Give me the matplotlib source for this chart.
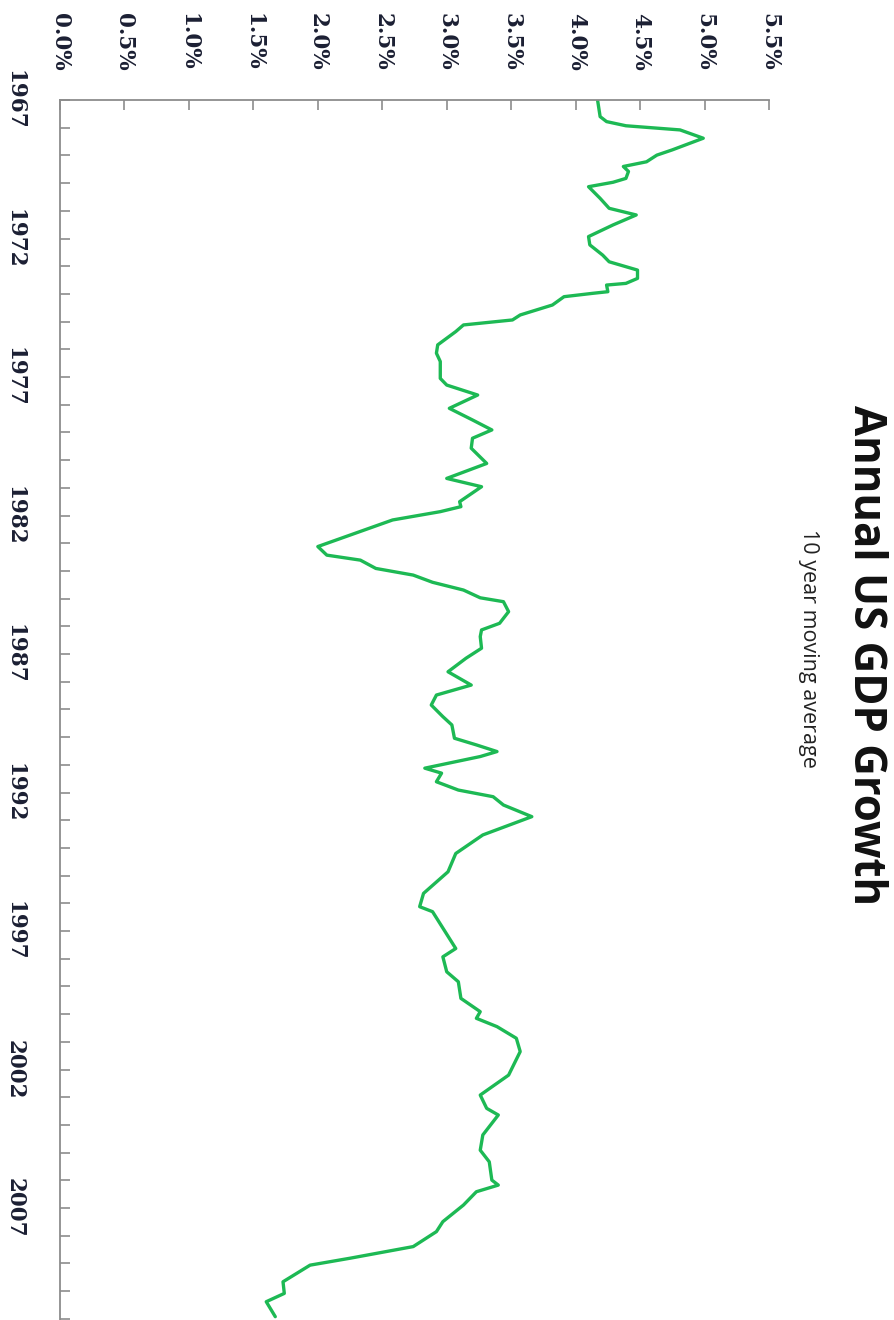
import matplotlib
matplotlib.use("Agg")
import matplotlib.pyplot as plt
from matplotlib.font_manager import FontProperties
from matplotlib.ticker import FixedLocator, FuncFormatter

# 10-year moving average of annual US GDP growth (%), by date (decimal year)
dates = [
    1967.00, 1967.60, 1967.78, 1967.93, 1968.08, 1968.38, 1968.80, 1968.99,
    1969.23, 1969.40, 1969.58, 1969.83, 1969.97, 1970.13, 1970.55, 1970.91,
    1971.15, 1971.51, 1971.93, 1972.23, 1972.60, 1972.84, 1973.14, 1973.44,
    1973.62, 1973.68, 1973.92, 1973.98, 1974.10, 1974.40, 1974.76, 1974.94,
    1975.12, 1975.36, 1975.84, 1976.14, 1976.44, 1977.05, 1977.29, 1977.65,
    1978.13, 1978.55, 1978.91, 1979.21, 1979.57, 1980.12, 1980.66, 1980.96,
    1981.50, 1981.68, 1981.86, 1982.16, 1983.12, 1983.43, 1983.61, 1983.91,
    1984.15, 1984.41, 1984.69, 1984.97, 1985.11, 1985.47, 1985.89, 1986.13,
    1986.37, 1986.79, 1987.15, 1987.64, 1988.12, 1988.48, 1988.84, 1989.26,
    1989.56, 1990.04, 1990.28, 1990.52, 1990.70, 1991.12, 1991.30, 1991.61,
    1991.91, 1992.15, 1992.45, 1992.87, 1993.53, 1994.20, 1994.86, 1995.64,
    1996.12, 1996.30, 1997.63, 1997.93, 1998.47, 1998.83, 1999.43, 1999.91,
    2000.15, 2000.45, 2000.87, 2001.35, 2002.20, 2002.92, 2003.40, 2003.64,
    2004.36, 2004.91, 2005.33, 2005.99, 2006.17, 2006.41, 2006.89, 2007.49,
    2007.85, 2008.39, 2008.81, 2009.06, 2009.66, 2010.08, 2010.38, 2010.92,
]
growth = [
    4.17, 4.19, 4.24, 4.39, 4.81, 4.99, 4.75, 4.63,
    4.55, 4.37, 4.41, 4.39, 4.29, 4.10, 4.19, 4.26,
    4.47, 4.29, 4.10, 4.11, 4.21, 4.26, 4.48, 4.48,
    4.39, 4.24, 4.25, 4.13, 3.91, 3.82, 3.57, 3.51,
    3.13, 3.07, 2.93, 2.92, 2.95, 2.95, 3.00, 3.24,
    3.02, 3.20, 3.35, 3.20, 3.19, 3.31, 3.00, 3.27,
    3.10, 3.11, 2.95, 2.58, 2.00, 2.07, 2.33, 2.45,
    2.74, 2.89, 3.13, 3.26, 3.44, 3.48, 3.41, 3.27,
    3.26, 3.27, 3.15, 3.01, 3.19, 2.92, 2.88, 2.97,
    3.04, 3.06, 3.23, 3.39, 3.26, 2.83, 2.96, 2.92,
    3.09, 3.36, 3.44, 3.66, 3.28, 3.07, 3.01, 2.82,
    2.79, 2.89, 3.07, 2.97, 3.00, 3.09, 3.11, 3.26,
    3.23, 3.39, 3.54, 3.57, 3.48, 3.26, 3.31, 3.40,
    3.28, 3.26, 3.33, 3.35, 3.40, 3.23, 3.13, 2.97,
    2.92, 2.74, 2.25, 1.94, 1.73, 1.74, 1.60, 1.67,
]

pct_ticks = [0.0, 0.5, 1.0, 1.5, 2.0, 2.5, 3.0, 3.5, 4.0, 4.5, 5.0, 5.5]
year_ticks = list(range(1967, 2012))
labelled_years = [1967, 1972, 1977, 1982, 1987, 1992, 1997, 2002, 2007]

title = "Annual US GDP Growth"
subtitle = "10 year moving average"

W, H = 895, 1320
fig = plt.figure(figsize=(W / 100, H / 100), dpi=100)
fig.patch.set_facecolor("white")

# Chart laid on its side: value axis across the top, time running downward
ax = fig.add_axes([60 / W, 0.0, 709 / W, 1220 / H])
ax.plot(growth, dates, color="#1db954", lw=2.4, solid_joinstyle="round",
        solid_capstyle="round")

ax.set_xlim(0, 5.5)
ax.set_ylim(2011.04, 1967)

for side in ("right", "bottom"):
    ax.spines[side].set_visible(False)
for side in ("left", "top"):
    ax.spines[side].set_color("#8c8c8c")
    ax.spines[side].set_linewidth(1.3)

label_color = "#1b1f33"
label_font = FontProperties(family="DejaVu Serif", weight="bold", size=15.5)

ax.xaxis.tick_top()
ax.xaxis.set_major_locator(FixedLocator(pct_ticks))
ax.xaxis.set_major_formatter(FuncFormatter(lambda v, p: f"{v:.1f}%"))
ax.tick_params(axis="x", which="major", direction="in", length=7, width=1.2,
               color="#8c8c8c", pad=21, labelcolor=label_color)
for lab in ax.get_xticklabels():
    lab.set_rotation(-90)
    lab.set_fontproperties(label_font)

ax.yaxis.set_major_locator(FixedLocator(year_ticks))
ax.yaxis.set_major_formatter(
    FuncFormatter(lambda v, p: str(int(round(v))) if int(round(v)) in labelled_years else ""))
ax.tick_params(axis="y", which="major", direction="in", length=7, width=1.2,
               color="#8c8c8c", pad=25, labelcolor=label_color)
for lab in ax.get_yticklabels():
    lab.set_rotation(-90)
    lab.set_va("center")
    lab.set_fontproperties(label_font)

fig.text(866 / W, 1 - 655 / H, title, rotation=-90, ha="center", va="center",
         fontsize=31.5, fontweight="bold", family="Open Sans", color="#111111")
fig.text(809 / W, 1 - 648 / H, subtitle, rotation=-90, ha="center", va="center",
         fontsize=15.5, family="Open Sans", color="#222222")

fig.savefig("out.png", dpi=100, facecolor="white")
